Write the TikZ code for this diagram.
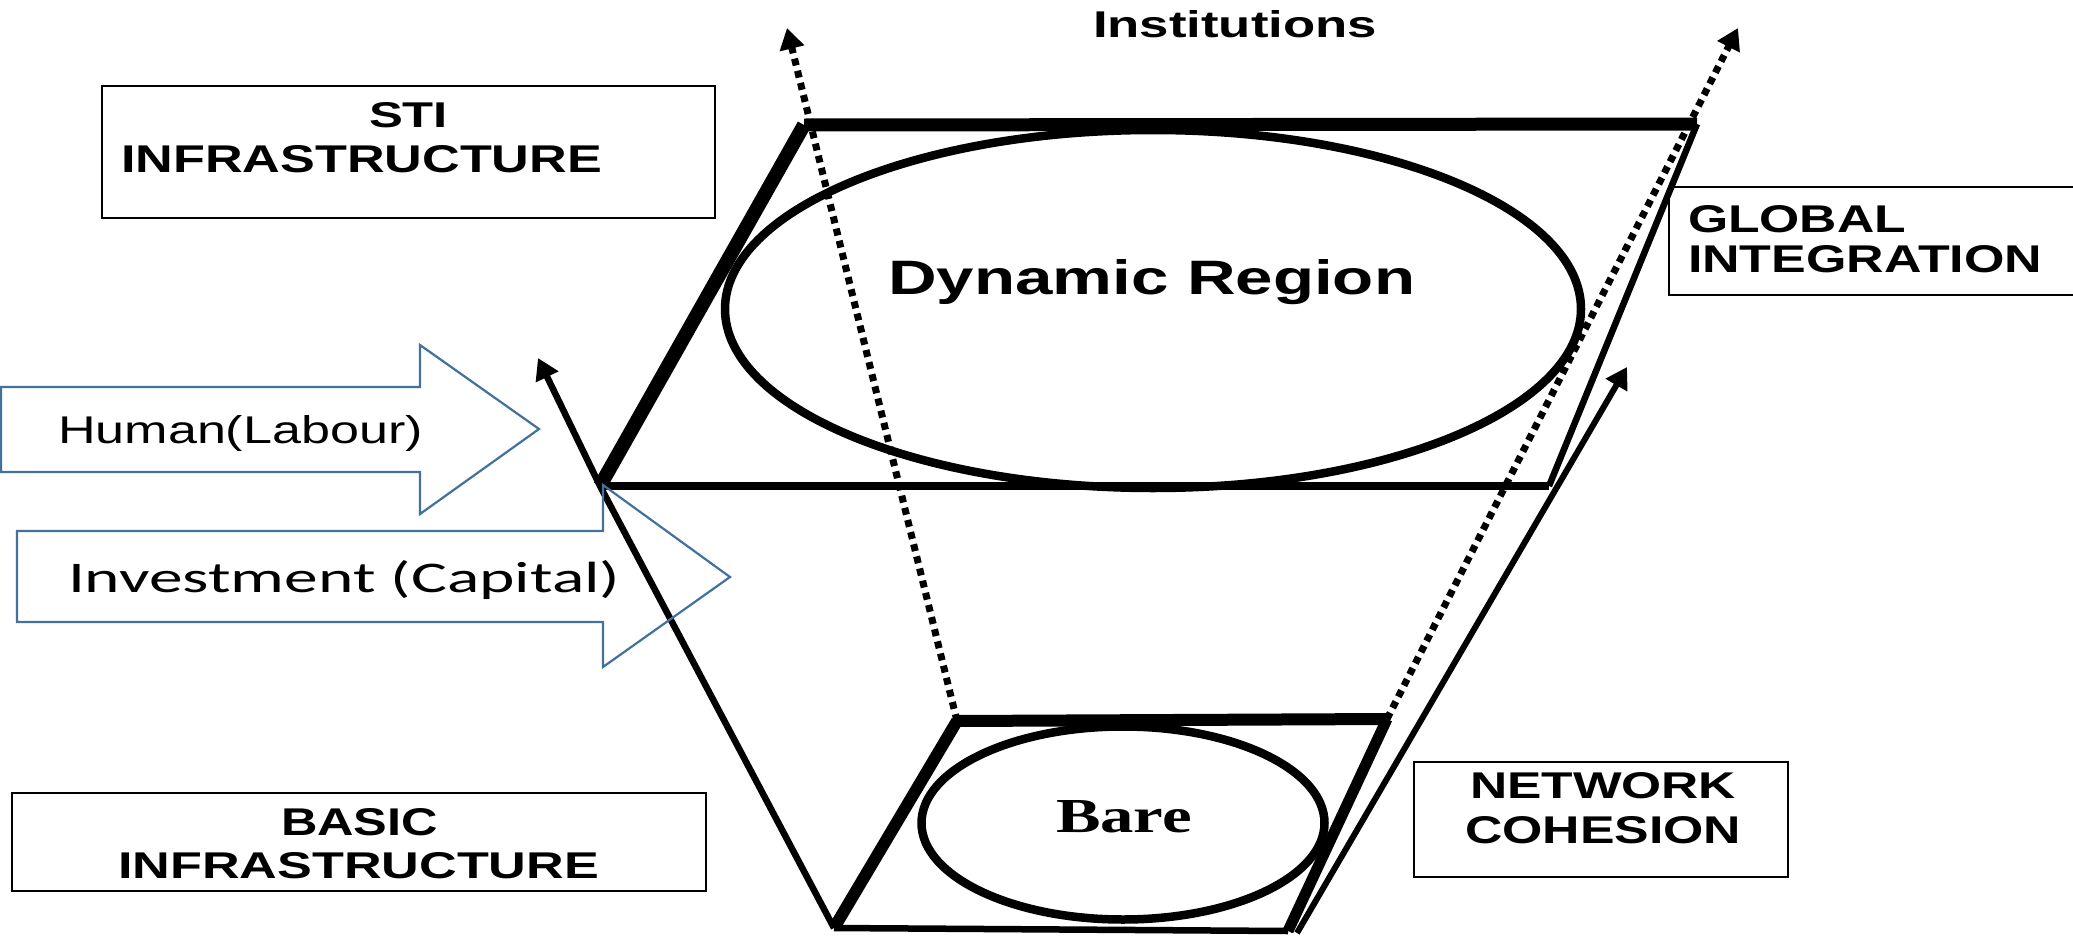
\documentclass[tikz,border=0pt]{standalone}
\usepackage{fontspec}
\setmainfont{Liberation Sans}
\newfontfamily\timesfont{Liberation Serif}
\newfontfamily\calibrifont{Carlito}
\usepackage{graphicx}
\usetikzlibrary{arrows.meta,shapes.geometric}
\definecolor{arrowblue}{RGB}{65,113,156}
\newcommand{\mkfit}[3]{\resizebox{#1pt}{#2pt}{#3}}
\begin{document}
\begin{tikzpicture}[x=1pt,y=-1pt,
  lbl/.style={inner sep=0pt, outer sep=0pt, anchor=base west},
  labelbox/.style={draw, line width=2pt, inner sep=0pt, rectangle},
  ringshape/.style={draw, ellipse, line width=8.5pt, inner sep=0pt},
  blockarrow/.style={draw=arrowblue, line width=2.2pt, line join=miter},
  tipped/.style={-{Triangle[length=21pt,width=24pt]}},
  dotline/.style={line width=7pt, dash pattern=on 7pt off 5.5pt}]
\useasboundingbox (0,0) rectangle (2073,937);
\clip (0,0) rectangle (2073,937);

% named corner points
\coordinate (tTL) at (804,125);
\coordinate (tTR) at (1697,124);
\coordinate (tBR) at (1549,486);
\coordinate (tBL) at (600,486);
\coordinate (bTL) at (957,721);
\coordinate (bTR) at (1387,719);
\coordinate (bBR) at (1288,931);
\coordinate (bBL) at (834,928);
\coordinate (lTip) at (538,358);
\coordinate (rStart) at (1297,933);
\coordinate (rTip) at (1627,367);
\coordinate (dlTip) at (787,28);
\coordinate (drTip) at (1738,28);

% ellipses
\node[ringshape, minimum width=856pt, minimum height=358pt] (dynring) at (1153,309) {};
\node[ringshape, minimum width=403pt, minimum height=193pt] (barering) at (1123,823) {};

% upper parallelogram
\draw[line width=13pt] (tTL) -- (tTR);
\draw[line width=14pt] (tTL) -- (tBL);
\draw[line width=7.5pt] (tBL) -- (tBR);
\draw[line width=6.5pt] (tTR) -- (tBR);

% lower parallelogram
\draw[line width=12pt] (bTL) -- (bTR);
\draw[line width=12pt] (bTL) -- (bBL);
\draw[line width=11pt] (bTR) -- (bBR);
\draw[line width=6.5pt] (bBL) -- (bBR);

% solid arrows
\draw[line width=6.5pt, tipped] (bBL) -- (tBL) -- (lTip);
\draw[line width=6pt, tipped] (rStart) -- (rTip);

% dotted arrows
\draw[dotline, tipped] (bTL) -- (dlTip);
\draw[dotline, tipped] (bTR) -- (drTip);

% block arrows
\draw[blockarrow] (1,387) -- (420,387) -- (420,345) -- (539,429) -- (420,514) -- (420,472) -- (1,472) -- cycle;
\draw[blockarrow] (17,531) -- (603,531) -- (603,485) -- (730,577) -- (603,667) -- (603,622) -- (17,622) -- cycle;

% label boxes
\node[labelbox, minimum width=613pt, minimum height=132pt] (stibox) at (408.5,152) {};
\node[labelbox, minimum width=694pt, minimum height=98pt] (basbox) at (359,842) {};
\node[labelbox, minimum width=416pt, minimum height=108pt] (globox) at (1877,241) {};
\node[labelbox, minimum width=374pt, minimum height=115pt] (netbox) at (1601,819.5) {};

% texts
\node[lbl] (inst) at (1093,37) {\mkfit{284}{27}{\bfseries Institutions}};
\node[lbl] (stia) at (369,127) {\mkfit{79}{25}{\bfseries STI}};
\node[lbl] (stib) at (121,172) {\mkfit{481}{27}{\bfseries INFRASTRUCTURE}};
\node[lbl] (dyn) at (888,294) {\mkfit{527}{35}{\bfseries Dynamic Region}};
\node[lbl] (gloa) at (1688,232) {\mkfit{218}{27}{\bfseries GLOBAL}};
\node[lbl] (glob) at (1688,272) {\mkfit{354}{27}{\bfseries INTEGRATION}};
\node[lbl] (neta) at (1470,798) {\mkfit{266}{26}{\bfseries NETWORK}};
\node[lbl] (netb) at (1465,843) {\mkfit{276}{27}{\bfseries COHESION}};
\node[lbl] (basa) at (281,835) {\mkfit{157}{27}{\bfseries BASIC}};
\node[lbl] (basb) at (118,878) {\mkfit{481}{26}{\bfseries INFRASTRUCTURE}};
\node[lbl] (bare) at (1056,832) {\mkfit{136}{32}{\timesfont\bfseries Bare}};
\node[lbl] (hum) at (58,443) {\mkfit{365}{28}{Human(Labour)}};
\node[lbl] (inv) at (68,592) {\mkfit{552}{32}{\calibrifont Investment (Capital)}};
\end{tikzpicture}
\end{document}
